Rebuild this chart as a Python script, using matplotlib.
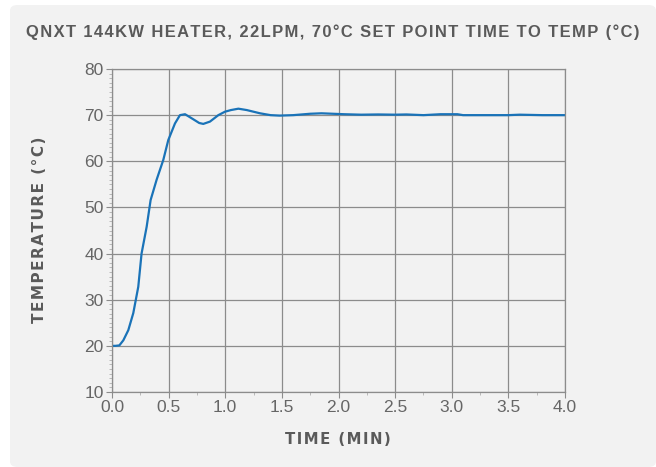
import matplotlib
matplotlib.use("Agg")
import matplotlib.pyplot as plt
from matplotlib.patches import FancyBboxPatch
from matplotlib.ticker import MultipleLocator

# time (min) and temperature (°C)
time_min = [0.0, 0.03, 0.065, 0.10, 0.144, 0.188, 0.232, 0.261, 0.306, 0.341,
            0.394, 0.453, 0.497, 0.556, 0.60, 0.645, 0.718, 0.77, 0.806, 0.865,
            0.939, 0.998, 1.05, 1.116, 1.19, 1.307, 1.40, 1.48, 1.60, 1.75,
            1.85, 1.95, 2.05, 2.2, 2.35, 2.5, 2.6, 2.75, 2.9, 3.05, 3.1,
            3.3, 3.5, 3.6, 3.8, 4.0]
temp_c = [20.0, 20.0, 20.1, 21.2, 23.4, 27.1, 32.8, 40.0, 45.8, 51.6,
          56.0, 60.3, 64.6, 68.2, 70.0, 70.2, 69.1, 68.3, 68.1, 68.6,
          70.0, 70.75, 71.1, 71.4, 71.1, 70.4, 70.0, 69.9, 70.0, 70.3,
          70.4, 70.3, 70.2, 70.1, 70.15, 70.1, 70.15, 70.0, 70.2, 70.2, 70.0,
          70.0, 70.0, 70.1, 70.0, 70.0]

x_ticks = [0.0, 0.5, 1.0, 1.5, 2.0, 2.5, 3.0, 3.5, 4.0]
y_ticks = [10, 20, 30, 40, 50, 60, 70, 80]

title = "QNXT 144KW HEATER, 22LPM, 70°C SET POINT TIME TO TEMP (°C)"
xlabel = "TIME (MIN)"
ylabel = "TEMPERATURE (°C)"
gray_txt = "#5a5a5a"
bg = "#f2f2f2"


def spaced(s, sep="\u200a"):
    # crude letter spacing
    return sep.join(s)


fig = plt.figure(figsize=(6.56, 4.67), dpi=100)
fig.patch.set_facecolor("white")
card = FancyBboxPatch((10 / 656, 0.0), 1 - 10 / 656, 1 - 5 / 467,
                      boxstyle="round,pad=0,rounding_size=0.012",
                      transform=fig.transFigure, facecolor=bg, edgecolor="none",
                      zorder=-10)
fig.patches.append(card)

ax = fig.add_axes([112 / 656, 1 - 392 / 467, (565 - 112) / 656, (392 - 69) / 467])
ax.set_facecolor(bg)
ax.plot(time_min, temp_c, color="#1a73b8", lw=1.6)

ax.set_xlim(0, 4)
ax.set_ylim(10, 80)
ax.set_xticks(x_ticks)
ax.set_xticklabels([f"{v:.1f}" for v in x_ticks])
ax.set_yticks(y_ticks)
ax.xaxis.set_minor_locator(MultipleLocator(0.25))
ax.yaxis.set_minor_locator(MultipleLocator(1))
ax.grid(True, which="major", color="#8c8c8c", lw=0.9)
for s in ax.spines.values():
    s.set_color("#8c8c8c")
    s.set_linewidth(0.9)
ax.tick_params(which="major", length=4, color="#8c8c8c", labelcolor="#666666",
               labelsize=12.5, pad=2)
ax.tick_params(which="minor", length=2, color="#b0b0b0", width=0.6)
for lab in ax.get_xticklabels() + ax.get_yticklabels():
    lab.set_family("Liberation Sans")

fig.text(333 / 656, 1 - 32 / 467, spaced(title), ha="center", va="center",
         fontsize=11.85, fontweight="bold", color=gray_txt,
         family=["Liberation Sans", "DejaVu Sans"])
fig.text(338 / 656, 1 - 439 / 467, spaced(xlabel), ha="center", va="center",
         fontsize=10.7, fontweight="bold", color=gray_txt, family="DejaVu Sans")
fig.text(40 / 656, 1 - 230 / 467, spaced(ylabel), ha="center", va="center",
         rotation=90, fontsize=11, fontweight="bold", color=gray_txt, family="DejaVu Sans")

fig.savefig("out.png", dpi=100)
